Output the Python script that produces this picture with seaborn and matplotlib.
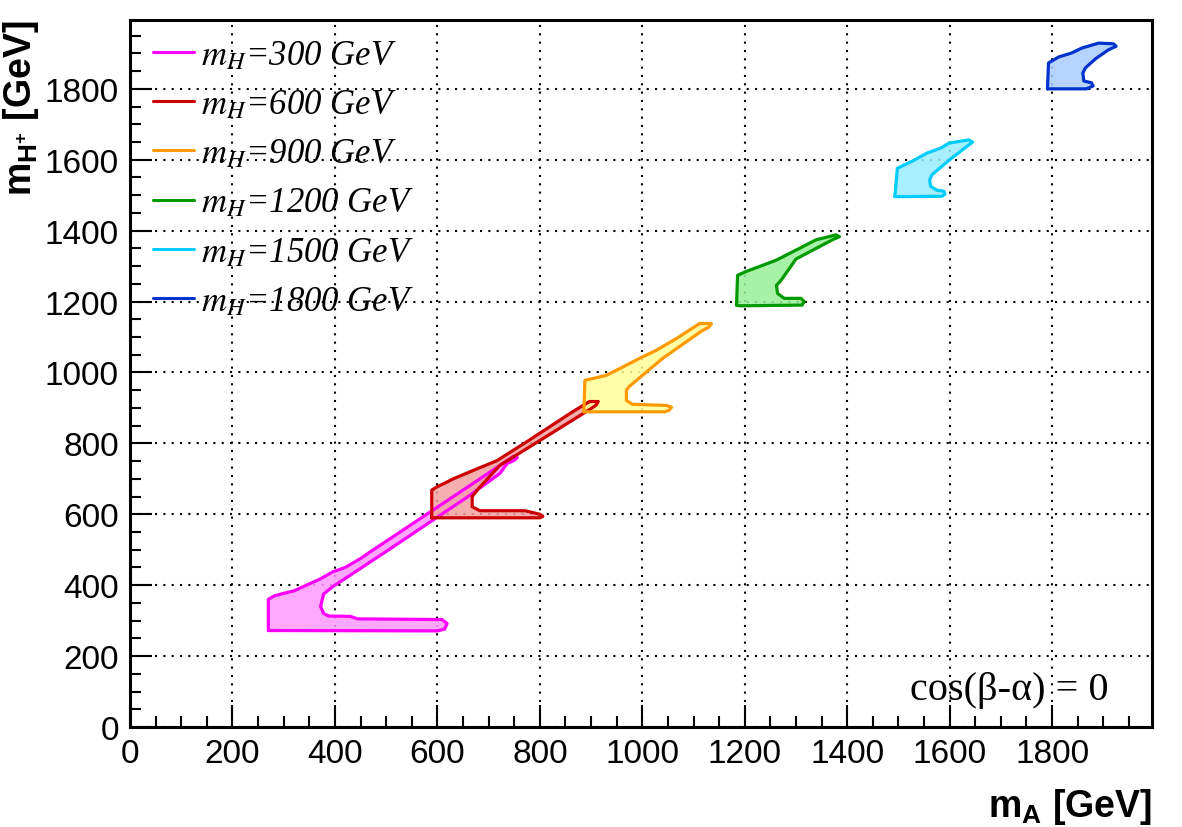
import numpy as np
import pandas as pd
import seaborn as sns
import matplotlib.pyplot as plt
from matplotlib.ticker import MultipleLocator

# 各 m_H 的允許區域輪廓 (m_A, m_H+)
mh300_x = [270, 270, 282, 300, 320, 340, 372, 395, 420, 450, 470, 520, 600, 680, 748, 756, 750, 736, 722, 660, 596, 500, 395, 378, 372, 378, 388, 430, 444, 609, 619, 614, 600, 270]
mh300_y = [272, 360, 370, 377, 384, 397, 418, 437, 450, 475, 495, 543, 620, 697, 763, 760, 752, 743, 715, 650, 588, 495, 395, 375, 340, 320, 313, 312, 305, 303, 292, 276, 271, 272]

mh600_x = [589, 589, 600, 612, 631, 664, 716, 775, 865, 897, 914, 910, 900, 839, 722, 680, 668, 668, 683, 771, 800, 806, 800, 589]
mh600_y = [590, 668, 678, 686, 700, 720, 751, 805, 890, 918, 918, 908, 898, 843, 738, 672, 650, 621, 610, 610, 600, 594, 590, 590]

mh900_x = [886, 888, 904, 930, 956, 995, 1028, 1067, 1112, 1135, 1130, 1115, 1040, 975, 969, 969, 981, 1047, 1057, 1052, 1044, 886]
mh900_y = [889, 978, 983, 992, 1011, 1040, 1063, 1096, 1138, 1138, 1128, 1116, 1040, 961, 950, 921, 910, 907, 902, 893, 889, 889]

mh1200_x = [1184, 1186, 1203, 1229, 1262, 1300, 1339, 1378, 1385, 1371, 1300, 1271, 1262, 1264, 1277, 1310, 1316, 1312, 1190, 1184]
mh1200_y = [1190, 1274, 1285, 1299, 1317, 1345, 1374, 1388, 1383, 1374, 1320, 1260, 1246, 1223, 1209, 1209, 1200, 1190, 1188, 1190]

mh1500_x = [1493, 1498, 1527, 1556, 1583, 1599, 1637, 1645, 1634, 1600, 1565, 1561, 1563, 1575, 1589, 1591, 1585, 1498, 1493]
mh1500_y = [1496, 1576, 1596, 1619, 1633, 1647, 1656, 1650, 1638, 1600, 1557, 1542, 1525, 1514, 1511, 1503, 1497, 1496, 1496]

mh1800_x = [1791, 1793, 1813, 1838, 1858, 1891, 1920, 1925, 1910, 1885, 1865, 1860, 1862, 1877, 1880, 1867, 1791]
mh1800_y = [1800, 1873, 1890, 1901, 1915, 1929, 1927, 1920, 1910, 1885, 1859, 1845, 1822, 1817, 1808, 1800, 1800]

labels = ['300', '600', '900', '1200', '1500', '1800']
regions = [(mh300_x, mh300_y), (mh600_x, mh600_y), (mh900_x, mh900_y),
           (mh1200_x, mh1200_y), (mh1500_x, mh1500_y), (mh1800_x, mh1800_y)]
line_colors = ['#ff00ff', '#cc0000', '#ff9900', '#009900', '#00ccff', '#0033cc']
fill_colors = ['#ff99ff', '#f4a0a0', '#ffff99', '#99f099', '#99eeff', '#aaccff']

sns.set_style("white")
plt.rcParams['font.family'] = ['Liberation Sans', 'DejaVu Sans']
plt.rcParams['text.color'] = 'black'
plt.rcParams['axes.labelcolor'] = 'black'
plt.rcParams['mathtext.fontset'] = 'custom'
plt.rcParams['mathtext.rm'] = 'Liberation Sans'
plt.rcParams['mathtext.bf'] = 'Liberation Sans:bold'
plt.rcParams['mathtext.it'] = 'Liberation Sans:italic'

fig = plt.figure(figsize=(11.82, 8.28), dpi=100)
ax = fig.add_axes([0.110, 0.1208, 0.8646, 0.8542])

for (xs, ys), lab, lc, fc in zip(regions, labels, line_colors, fill_colors):
    ax.fill(xs, ys, color=fc, alpha=0.85, lw=0, zorder=2)
    df = pd.DataFrame({'mA': xs, 'mHp': ys})
    sns.lineplot(data=df, x='mA', y='mHp', sort=False, estimator=None,
                 color=lc, lw=2.3, ax=ax, zorder=3,
                 label=r'$m_{H}$=' + lab + ' GeV')

ax.set_xlim(0, 1995)
ax.set_ylim(0, 1995)
ax.xaxis.set_major_locator(MultipleLocator(200))
ax.xaxis.set_minor_locator(MultipleLocator(50))
ax.yaxis.set_major_locator(MultipleLocator(200))
ax.yaxis.set_minor_locator(MultipleLocator(50))
ax.tick_params(which='both', direction='in', bottom=True, left=True, top=False, right=False,
               labelsize=24, width=1.5, colors='black')
ax.tick_params(which='major', length=16, pad=8)
ax.tick_params(which='minor', length=8)
ax.grid(True, which='major', color='black', linestyle=(0, (1, 3)), lw=1.5, zorder=1)
for s in ax.spines.values():
    s.set_linewidth(2.2)
    s.set_color('black')

ax.set_xlabel(r'$\mathbf{m_{A}}$ [GeV]', fontsize=27, fontweight='bold')
ax.xaxis.set_label_coords(1.0, -0.083)
ax.xaxis.label.set_horizontalalignment('right')
ax.set_ylabel(r'$\mathbf{m_{H^{+}}}$ [GeV]', fontsize=27, fontweight='bold')
ax.yaxis.set_label_coords(-0.087, 1.0)
ax.yaxis.label.set_horizontalalignment('right')

ax.text(0.957, 0.040, 'cos(β-α) = 0', transform=ax.transAxes, ha='right', va='baseline',
        fontsize=29, family=['Liberation Serif', 'DejaVu Serif'])

leg = ax.legend(loc='upper left', bbox_to_anchor=(0.0, 1.005), frameon=False,
                handlelength=1.2, handletextpad=0.2, labelspacing=0.47, borderaxespad=0.25,
                prop={'family': 'Liberation Serif', 'style': 'italic', 'size': 25})
for t in leg.get_texts():
    t.set_math_fontfamily('stix')
for h in leg.get_lines():
    h.set_linewidth(2.2)

fig.savefig('out.png', dpi=100)
